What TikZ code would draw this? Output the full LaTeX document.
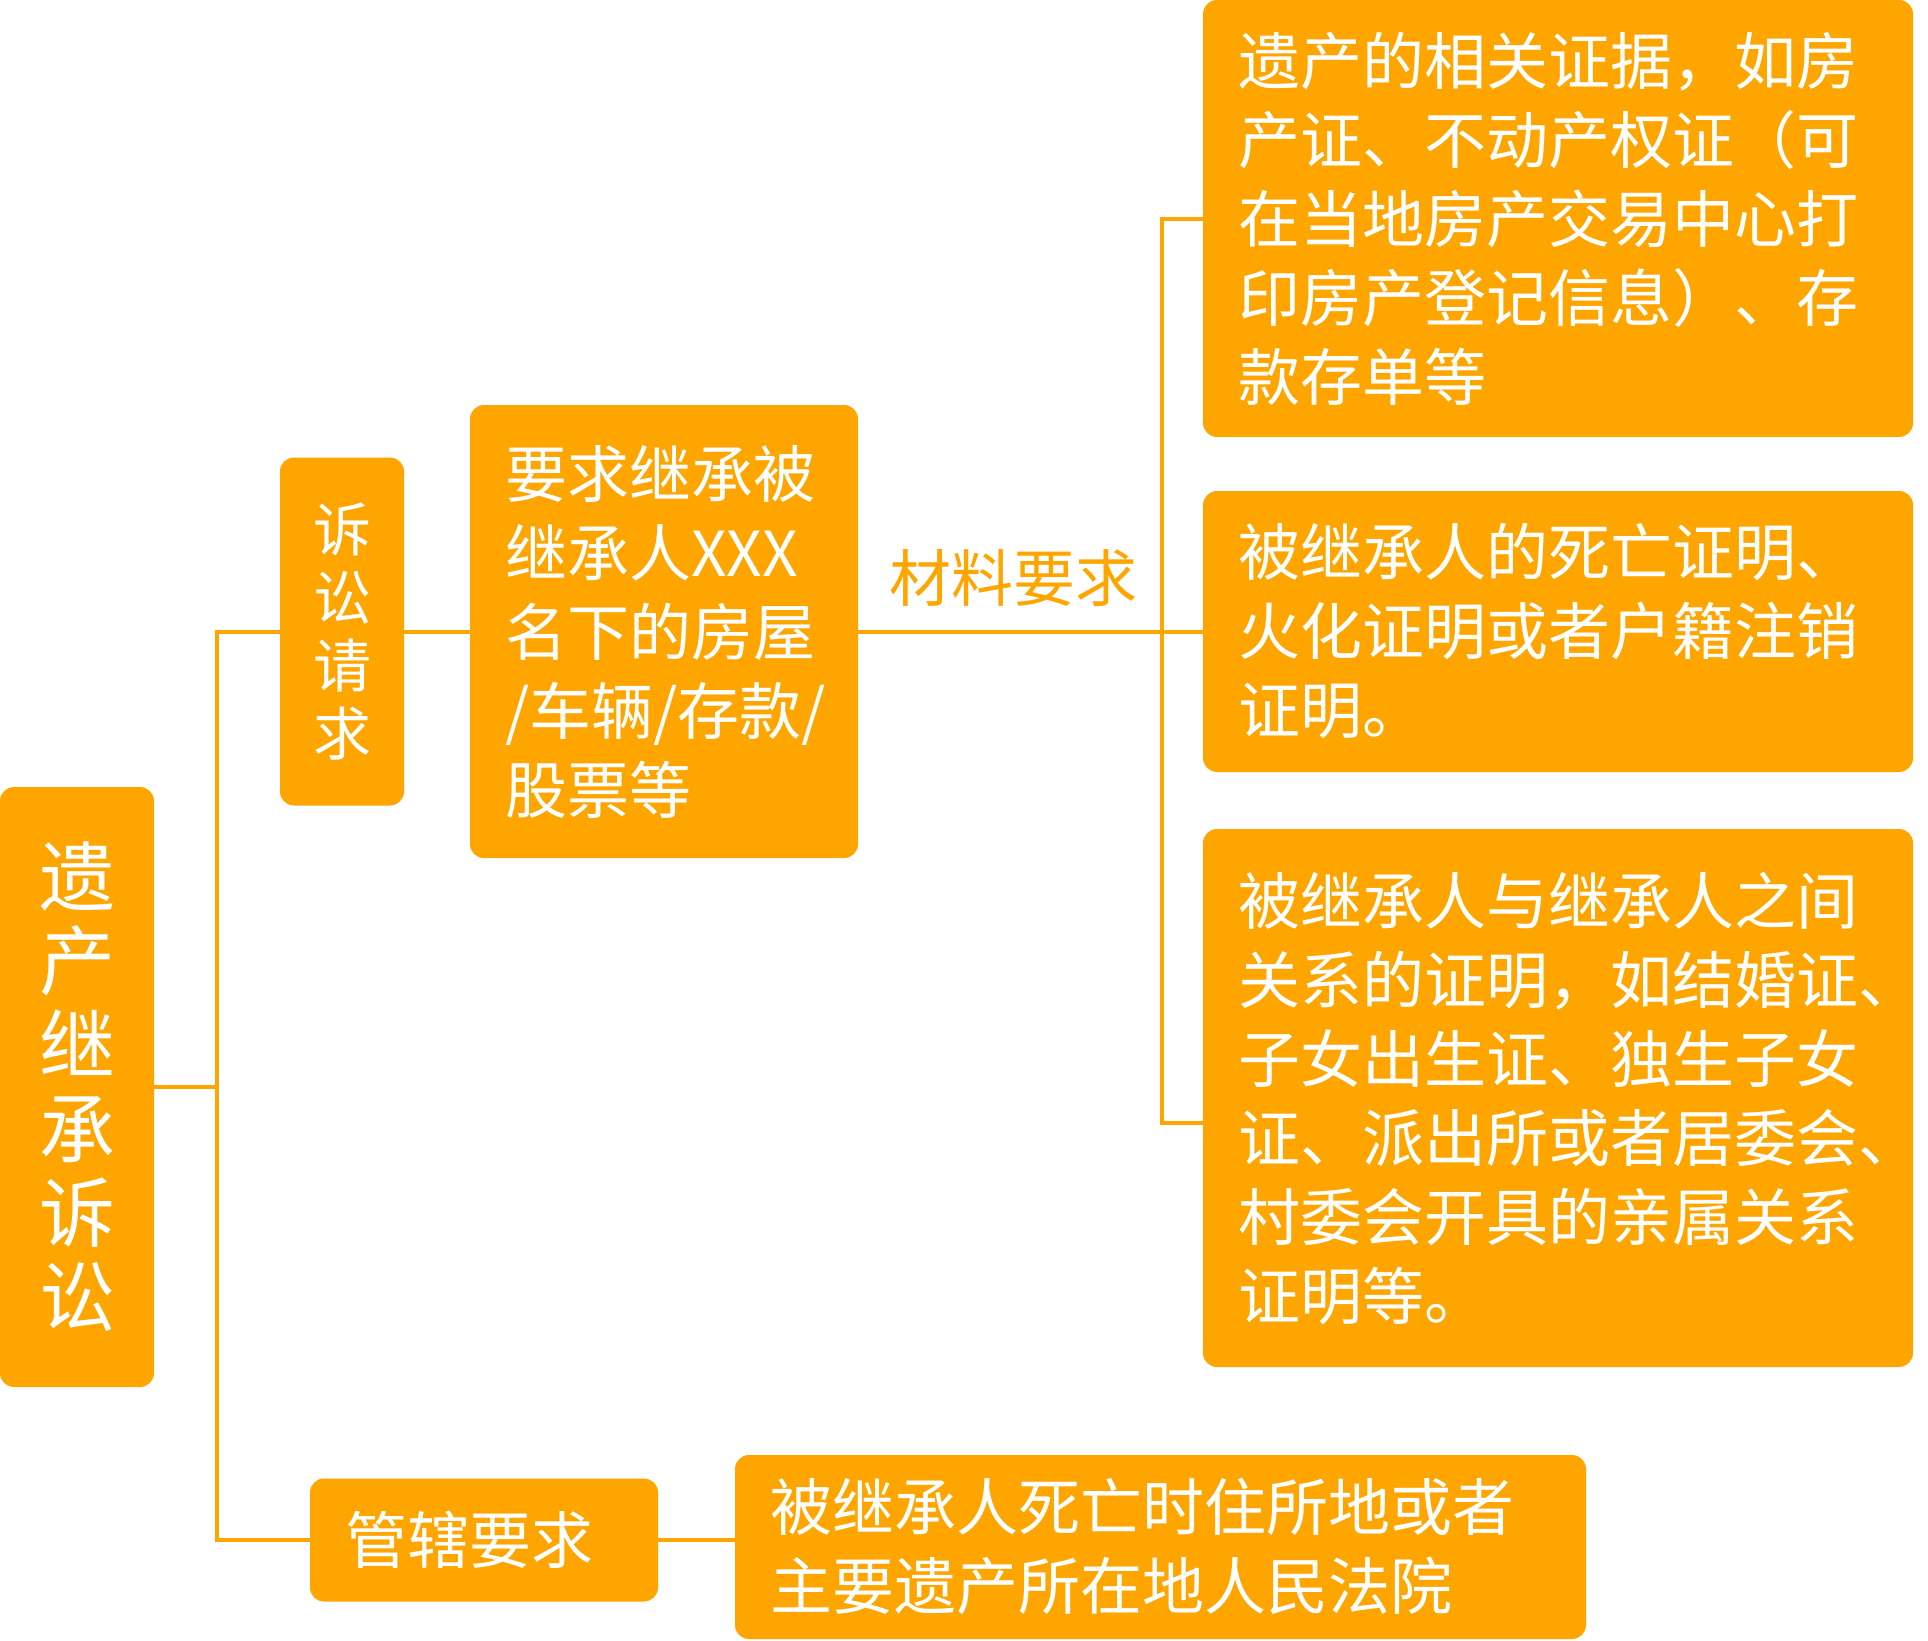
\documentclass[tikz,border=0pt]{standalone}
\usepackage{fontspec}
\newfontfamily\cjk{Noto Sans CJK SC}
\definecolor{org}{HTML}{FFA500}
\begin{document}
\begin{tikzpicture}[x=1pt,y=-1pt,
  box/.style={fill=org, rounded corners=14pt, inner sep=0pt, text=white,
    font=\cjk\fontsize{62}{79}\selectfont},
  conn/.style={draw=org, line width=4pt},
  lbl/.style={text=org, inner sep=0pt, font=\cjk\fontsize{62}{79}\selectfont}]
\useasboundingbox (0,0) rectangle (1928,1641);
% nodes
\node[box, minimum width=154pt, minimum height=600pt, align=center,
  font=\cjk\fontsize{76}{84}\selectfont] (root) at (77,1087) {遗\\产\\继\\承\\诉\\讼};
\node[box, minimum width=124pt, minimum height=348pt, align=center,
  font=\cjk\fontsize{58}{68}\selectfont] (suqiu) at (342,631.5) {诉\\讼\\请\\求};
\node[box, minimum width=388pt, minimum height=453pt, text width=318pt, align=left]
  (yaoqiu) at (664,631.5) {要求继承被\\继承人XXX\\名下的房屋\\/车辆/存款/\\股票等};
\node[box, minimum width=710pt, minimum height=437pt, text width=640pt, align=left]
  (zj1) at (1558,218.5) {遗产的相关证据，如房\\产证、不动产权证（可\\在当地房产交易中心打\\印房产登记信息）、存\\款存单等};
\node[box, minimum width=710pt, minimum height=281pt, text width=640pt, align=left]
  (zj2) at (1558,631.5) {被继承人的死亡证明、\\火化证明或者户籍注销\\证明。};
\node[box, minimum width=710pt, minimum height=538pt, text width=640pt, align=left]
  (zj3) at (1558,1098) {被继承人与继承人之间\\关系的证明，如结婚证、\\子女出生证、独生子女\\证、派出所或者居委会、\\村委会开具的亲属关系\\证明等。};
\node[box, minimum width=348pt, minimum height=123pt, text width=278pt, align=left]
  (guanxia) at (484,1540) {管辖要求};
\node[box, minimum width=851pt, minimum height=184pt, text width=781pt, align=left]
  (fayuan) at (1160.5,1547) {被继承人死亡时住所地或者\\主要遗产所在地人民法院};
\node[lbl] (cailiao) at (1013,578) {材料要求};
% connectors
\coordinate (jr) at (217,1087);
\coordinate (jm) at (1162,1123);
\draw[conn] (root.east) -- (jr);
\draw[conn] (suqiu.west) -| (jr) |- (guanxia.west);
\draw[conn] (suqiu.east) -- (yaoqiu.west);
\draw[conn] (yaoqiu.east) -- (zj2.west);
\draw[conn] (zj1.west) -| (jm) -- (jm -| zj3.west);
\draw[conn] (guanxia.east) -- (guanxia.east -| fayuan.west);
\end{tikzpicture}
\end{document}
